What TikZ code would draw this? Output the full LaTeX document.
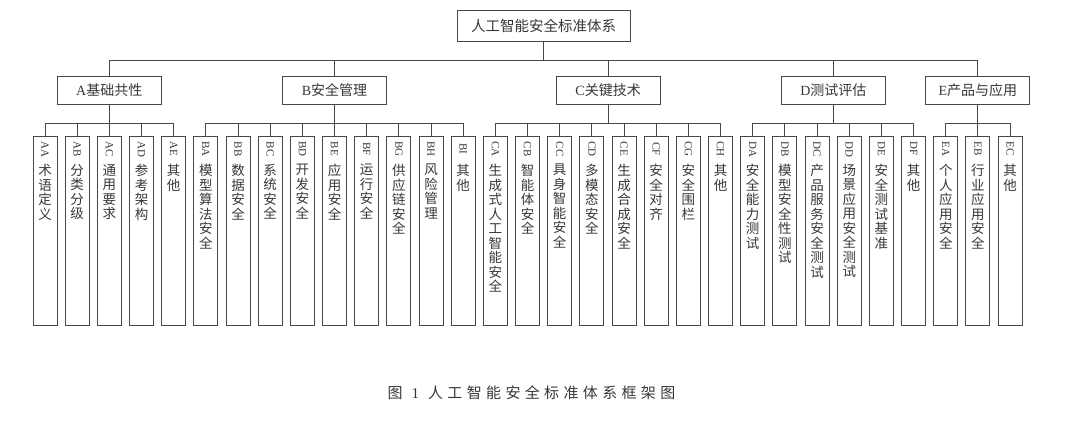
\documentclass[tikz,border=0pt]{standalone}
\usepackage{fontspec}
\setmainfont{Liberation Serif}
\newfontfamily\cjk{Noto Sans CJK SC}
\newfontfamily\capfont[LetterSpace=29]{Noto Sans CJK SC}
\newcommand\cj[1]{{\cjk #1}}
\colorlet{ln}{black!72}
\colorlet{tx}{black!78}
\tikzset{
  box/.style={draw=ln, line width=0.9pt, rectangle, inner sep=0pt, text=tx},
  topbox/.style={box, minimum width=173pt, minimum height=31pt, font=\fontsize{14.5}{16}\selectfont},
  midbox/.style={box, minimum width=104pt, minimum height=28pt, font=\fontsize{14}{16}\selectfont},
  leaf/.style={box, minimum width=24pt, minimum height=189pt},
  code/.style={rotate=-90, inner sep=0pt, text=tx, font=\fontsize{11}{12}\selectfont},
  ltext/.style={anchor=north, align=center, inner sep=0pt, text=tx, font=\cjk\fontsize{13.5}{14.5}\selectfont},
  conn/.style={draw=ln, line width=0.9pt},
}
\newcommand\leafbox[3]{%
  \node[leaf] (#2) at ({45+32.17*#1},230.5) {};
  \node[code] (#2c) at ({45+32.17*#1},149) {#2};
  \node[ltext] (#2t) at ({45+32.17*#1},164) {#3};
}
\begin{document}
\begin{tikzpicture}[x=1pt,y=-1pt]
\useasboundingbox (0,0) rectangle (1080,429);
\fill[white] (0,0) rectangle (1080,429);

\node[topbox] (root) at (543.5,25.5) {\cj{人工智能安全标准体系}};

\node[midbox] (A) at (109.3,90) {A\cj{基础共性}};
\node[midbox] (B) at (334.5,90) {B\cj{安全管理}};
\node[midbox] (C) at (608.1,90) {C\cj{关键技术}};
\node[midbox] (D) at (833.3,90) {D\cj{测试评估}};
\node[midbox] (E) at (977.8,90) {E\cj{产品与应用}};

\foreach \p in {A,B,C,D,E}{
  \draw[conn] (root.south) -- ++(0,19) -| (\p.north);
}

\leafbox{0}{AA}{术\\语\\定\\义}
\leafbox{1}{AB}{分\\类\\分\\级}
\leafbox{2}{AC}{通\\用\\要\\求}
\leafbox{3}{AD}{参\\考\\架\\构}
\leafbox{4}{AE}{其\\他}
\leafbox{5}{BA}{模\\型\\算\\法\\安\\全}
\leafbox{6}{BB}{数\\据\\安\\全}
\leafbox{7}{BC}{系\\统\\安\\全}
\leafbox{8}{BD}{开\\发\\安\\全}
\leafbox{9}{BE}{应\\用\\安\\全}
\leafbox{10}{BF}{运\\行\\安\\全}
\leafbox{11}{BG}{供\\应\\链\\安\\全}
\leafbox{12}{BH}{风\\险\\管\\理}
\leafbox{13}{BI}{其\\他}
\leafbox{14}{CA}{生\\成\\式\\人\\工\\智\\能\\安\\全}
\leafbox{15}{CB}{智\\能\\体\\安\\全}
\leafbox{16}{CC}{具\\身\\智\\能\\安\\全}
\leafbox{17}{CD}{多\\模\\态\\安\\全}
\leafbox{18}{CE}{生\\成\\合\\成\\安\\全}
\leafbox{19}{CF}{安\\全\\对\\齐}
\leafbox{20}{CG}{安\\全\\围\\栏}
\leafbox{21}{CH}{其\\他}
\leafbox{22}{DA}{安\\全\\能\\力\\测\\试}
\leafbox{23}{DB}{模\\型\\安\\全\\性\\测\\试}
\leafbox{24}{DC}{产\\品\\服\\务\\安\\全\\测\\试}
\leafbox{25}{DD}{场\\景\\应\\用\\安\\全\\测\\试}
\leafbox{26}{DE}{安\\全\\测\\试\\基\\准}
\leafbox{27}{DF}{其\\他}
\leafbox{28}{EA}{个\\人\\应\\用\\安\\全}
\leafbox{29}{EB}{行\\业\\应\\用\\安\\全}
\leafbox{30}{EC}{其\\他}

\foreach \c in {AA,AB,AC,AD,AE}{\draw[conn] (A.south) -- ++(0,19) -| (\c.north);}
\foreach \c in {BA,BB,BC,BD,BE,BF,BG,BH,BI}{\draw[conn] (B.south) -- ++(0,19) -| (\c.north);}
\foreach \c in {CA,CB,CC,CD,CE,CF,CG,CH}{\draw[conn] (C.south) -- ++(0,19) -| (\c.north);}
\foreach \c in {DA,DB,DC,DD,DE,DF}{\draw[conn] (D.south) -- ++(0,19) -| (\c.north);}
\foreach \c in {EA,EB,EC}{\draw[conn] (E.south) -- ++(0,19) -| (\c.north);}

\node[inner sep=0pt, text=tx, font=\capfont\fontsize{15}{17}\selectfont] (cap) at (531.5,393) {图\hspace{9pt}{\rmfamily 1}\hspace{9pt}人工智能安全标准体系框架图};
\end{tikzpicture}
\end{document}
